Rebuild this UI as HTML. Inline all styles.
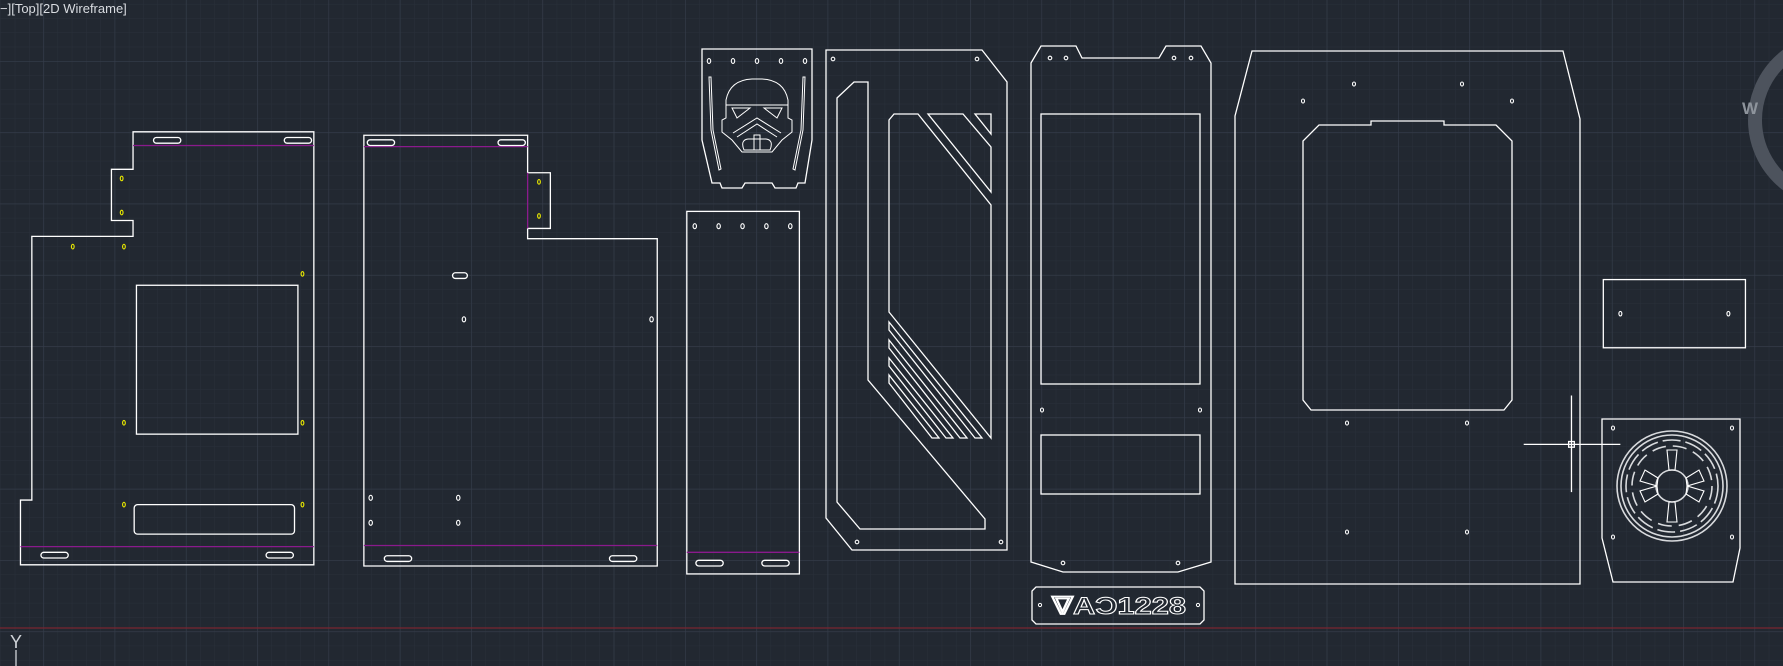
<!DOCTYPE html>
<html><head><meta charset="utf-8"><style>
html,body{margin:0;padding:0;background:#222831;}
svg{display:block}
</style></head><body>
<svg width="1783" height="666" viewBox="0 0 1783 666" xmlns="http://www.w3.org/2000/svg">
<defs>
<pattern id="minor" x="43.3" y="61" width="14.26" height="14.26" patternUnits="userSpaceOnUse">
<path d="M0 0H14.26M0 0V14.26" stroke="#29303a" stroke-width="1" fill="none"/>
</pattern>
<pattern id="major" x="43.3" y="61" width="71.3" height="71.3" patternUnits="userSpaceOnUse">
<path d="M0 0H71.3M0 0V71.3" stroke="#363d4b" stroke-width="1.2" fill="none"/>
</pattern>
</defs>
<rect width="1783" height="666" fill="#222831"/>
<rect width="1783" height="666" fill="url(#minor)"/>
<rect width="1783" height="666" fill="url(#major)"/>
<line x1="0" y1="628" x2="1783" y2="628" stroke="#7a2530" stroke-width="1.3"/>
<text x="0" y="13" font-family="Liberation Sans, sans-serif" font-size="13" fill="#d8dbe0">−][Top][2D Wireframe]</text>
<text x="10" y="648" font-family="Liberation Sans, sans-serif" font-size="18" fill="#cfd3d8">Y</text>
<line x1="16" y1="650" x2="16" y2="666" stroke="#cfd3d8" stroke-width="1.3"/>
<!-- compass -->
<circle cx="1836" cy="120" r="81" fill="none" stroke="#4d535d" stroke-width="14"/>
<text x="1742" y="114" font-family="Liberation Sans, sans-serif" font-size="17" font-weight="bold" fill="#8e949c">W</text>

<!-- display-coord group -->
<g transform="scale(1.1371,1.1365)" fill="none" stroke="#fff" stroke-width="1.15">
<!-- P1 -->
<path d="M117,116H276V497H18V440H28V208H117V194H98V149H117Z"/>
<line x1="117" y1="128" x2="276" y2="128" stroke="#8a1a8c"/>
<line x1="18" y1="481" x2="276" y2="481" stroke="#8a1a8c"/>
<rect x="135" y="121" width="24" height="5" rx="2.5"/>
<rect x="250" y="121" width="24" height="5" rx="2.5"/>
<rect x="36" y="486" width="24" height="5" rx="2.5"/>
<rect x="234" y="486" width="24" height="5" rx="2.5"/>
<rect x="120" y="251" width="142" height="131"/>
<rect x="118" y="444" width="141" height="26" rx="3"/>
<g stroke="#e8e800" stroke-width="1"><ellipse cx="107" cy="157" rx="1.2" ry="2"/><ellipse cx="107" cy="187" rx="1.2" ry="2"/><ellipse cx="64" cy="217" rx="1.2" ry="2"/><ellipse cx="109" cy="217" rx="1.2" ry="2"/><ellipse cx="266" cy="241" rx="1.2" ry="2"/><ellipse cx="109" cy="372" rx="1.2" ry="2"/><ellipse cx="266" cy="372" rx="1.2" ry="2"/><ellipse cx="109" cy="444" rx="1.2" ry="2"/><ellipse cx="266" cy="444" rx="1.2" ry="2"/></g>
<!-- P2 -->
<path d="M320,119H464V152H484V201H464V210H578V498H320Z"/>
<line x1="320" y1="129" x2="464" y2="129" stroke="#8a1a8c"/>
<line x1="464" y1="152" x2="464" y2="201" stroke="#8a1a8c"/>
<line x1="320" y1="480" x2="578" y2="480" stroke="#8a1a8c"/>
<rect x="323" y="123" width="24" height="5" rx="2.5"/>
<rect x="438" y="123" width="24" height="5" rx="2.5"/>
<rect x="338" y="489" width="24" height="5" rx="2.5"/>
<rect x="536" y="489" width="24" height="5" rx="2.5"/>
<rect x="398" y="240" width="13" height="5" rx="2.5"/>
<g stroke-width="1"><ellipse cx="408" cy="281" rx="1.5" ry="2.2"/><ellipse cx="573" cy="281" rx="1.5" ry="2.2"/><ellipse cx="326" cy="438" rx="1.5" ry="2.2"/><ellipse cx="403" cy="438" rx="1.5" ry="2.2"/><ellipse cx="326" cy="460" rx="1.5" ry="2.2"/><ellipse cx="403" cy="460" rx="1.5" ry="2.2"/></g>
<g stroke="#e8e800" stroke-width="1"><ellipse cx="474" cy="160" rx="1.2" ry="2"/><ellipse cx="474" cy="190" rx="1.2" ry="2"/></g>
<!-- P4 -->
<rect x="604" y="186" width="99" height="319"/>
<line x1="604" y1="486" x2="703" y2="486" stroke="#8a1a8c"/>
<g stroke-width="1"><ellipse cx="611" cy="199" rx="1.5" ry="2.2"/><ellipse cx="632" cy="199" rx="1.5" ry="2.2"/><ellipse cx="653" cy="199" rx="1.5" ry="2.2"/><ellipse cx="674" cy="199" rx="1.5" ry="2.2"/><ellipse cx="695" cy="199" rx="1.5" ry="2.2"/></g>
<rect x="612" y="493" width="24" height="5" rx="2.5"/>
<rect x="670" y="493" width="24" height="5" rx="2.5"/>
<!-- P8 -->
<rect x="1410" y="246" width="125" height="60"/>
<g stroke-width="1"><ellipse cx="1425" cy="276" rx="1.3" ry="2"/><ellipse cx="1520" cy="276" rx="1.3" ry="2"/></g>
<!-- crosshair -->
<line x1="1340" y1="391" x2="1425" y2="391"/>
<line x1="1382" y1="348" x2="1382" y2="433"/>
<rect x="1379.5" y="388.5" width="5" height="5"/>
</g>

<!-- actual-coord group -->
<g fill="none" stroke="#fff" stroke-width="1.3">
<!-- Stormtrooper panel -->
<path d="M702,49H812V140L805,183H798L796,188H775L772,183H745L742,188H722L720,183H712L702,140Z"/>
<g stroke-width="1.1"><ellipse cx="709" cy="61" rx="1.7" ry="2.4"/><ellipse cx="733" cy="61" rx="1.7" ry="2.4"/><ellipse cx="757" cy="61" rx="1.7" ry="2.4"/><ellipse cx="781" cy="61" rx="1.7" ry="2.4"/><ellipse cx="805" cy="61" rx="1.7" ry="2.4"/></g>
<path d="M709,77L711,130L719,170L721,169L713,130L711,77Z" stroke-width="1"/>
<path d="M805,77L803,130L795,170L793,169L801,130L803,77Z" stroke-width="1"/>
<path d="M726,100Q730,80 752,79H762Q784,80 788,100V105H726Z" stroke-width="1"/>
<path d="M726,105V118L722,120V132L732,140L742,152H772L782,140L792,132V120L788,118V105" stroke-width="1"/>
<path d="M732,108H750L737,118Z M782,108H764L777,118Z" stroke-width="1"/>
<path d="M733,133L757,118L781,133M737,137L757,124L777,137" stroke-width="1"/>
<path d="M744,150Q740,140 748,139H766Q774,140 770,150Z M754,135H760V150H754Z" stroke-width="1"/>
<!-- P5 -->
<path d="M826,50H982L1007,82V550H852L826,518Z"/>
<path d="M837,98L854,82H868V380L985,519V529H860L837,502Z"/>
<path d="M889,120L894,114H918L991,205V438L889,312Z"/>
<path d="M928,114H963L991,147V192Z"/>
<path d="M975,114H991V134Z"/>
<path d="M889,322L982,438H975L889,330Z"/>
<path d="M889,340L967,438H960L889,348Z"/>
<path d="M889,358L953,438H946L889,366Z"/>
<path d="M889,375L939,438H932L889,383Z"/>
<g stroke-width="1.1"><circle cx="833" cy="59" r="1.8"/><circle cx="977" cy="59" r="1.8"/><circle cx="857" cy="542" r="1.8"/><circle cx="1001" cy="542" r="1.8"/></g>
<!-- P6 -->
<path d="M1031,63L1041,46H1076L1082,58H1159L1166,46H1201L1211,63V562L1178,572H1063L1031,562Z"/>
<rect x="1041" y="114" width="159" height="270"/>
<rect x="1041" y="435" width="159" height="59"/>
<g stroke-width="1.1"><ellipse cx="1050" cy="58" rx="1.8" ry="1.8"/><ellipse cx="1066" cy="58" rx="1.8" ry="1.8"/><ellipse cx="1174" cy="58" rx="1.8" ry="1.8"/><ellipse cx="1191" cy="58" rx="1.8" ry="1.8"/><ellipse cx="1063" cy="563" rx="1.8" ry="1.8"/><ellipse cx="1178" cy="563" rx="1.8" ry="1.8"/><ellipse cx="1042" cy="410" rx="1.5" ry="2"/><ellipse cx="1200" cy="410" rx="1.5" ry="2"/></g>
<!-- nameplate -->
<path d="M1036,587H1200L1204,591V620L1200,624H1036L1032,620V591Z"/>
<circle cx="1040" cy="605" r="1.6" stroke-width="1"/><circle cx="1198" cy="605" r="1.6" stroke-width="1"/>
<text x="1052" y="614" textLength="134" lengthAdjust="spacingAndGlyphs" font-family="Liberation Sans, sans-serif" font-weight="bold" font-size="24" fill="#222831" stroke="#fff" stroke-width="1">ᐁAƆ1228</text>
<!-- P7 -->
<path d="M1252,51H1563L1580,119V584H1235V116Z"/>
<path d="M1319,125H1371V121H1444V125H1496L1512,141V400L1504,410H1311L1303,400V141Z"/>
<g stroke-width="1.1"><ellipse cx="1354" cy="84" rx="1.5" ry="2"/><ellipse cx="1462" cy="84" rx="1.5" ry="2"/><ellipse cx="1303" cy="101" rx="1.5" ry="2"/><ellipse cx="1512" cy="101" rx="1.5" ry="2"/><ellipse cx="1347" cy="423" rx="1.5" ry="2"/><ellipse cx="1467" cy="423" rx="1.5" ry="2"/><ellipse cx="1347" cy="532" rx="1.5" ry="2"/><ellipse cx="1467" cy="532" rx="1.5" ry="2"/></g>
<!-- P9 emblem panel -->
<path d="M1602,419H1740V548L1733,582H1613L1602,538Z"/>
<g stroke-width="1.1"><ellipse cx="1613" cy="428" rx="1.5" ry="2"/><ellipse cx="1732" cy="428" rx="1.5" ry="2"/><ellipse cx="1613" cy="537" rx="1.5" ry="2"/><ellipse cx="1732" cy="537" rx="1.5" ry="2"/></g>
<g stroke="#d8dadd" stroke-width="1.6">
<circle cx="1672" cy="486" r="55"/>
<circle cx="1672" cy="486" r="51"/>
<circle cx="1672" cy="486" r="46" stroke-dasharray="18 5"/>
<circle cx="1672" cy="486" r="40" stroke-dasharray="14 7"/>
<circle cx="1672" cy="486" r="16"/>
</g>
<g stroke-width="1.1">
<path d="M1669,470L1667,450H1677L1675,470Z"/>
<path d="M1669,502L1667,522H1677L1675,502Z"/>
<path d="M1658,478L1645,470L1640,481L1657,486Z"/>
<path d="M1686,478L1699,470L1704,481L1687,486Z"/>
<path d="M1658,494L1645,502L1640,491L1657,486Z"/>
<path d="M1686,494L1699,502L1704,491L1687,486Z"/>
</g>
</g>
</svg>
</body></html>
